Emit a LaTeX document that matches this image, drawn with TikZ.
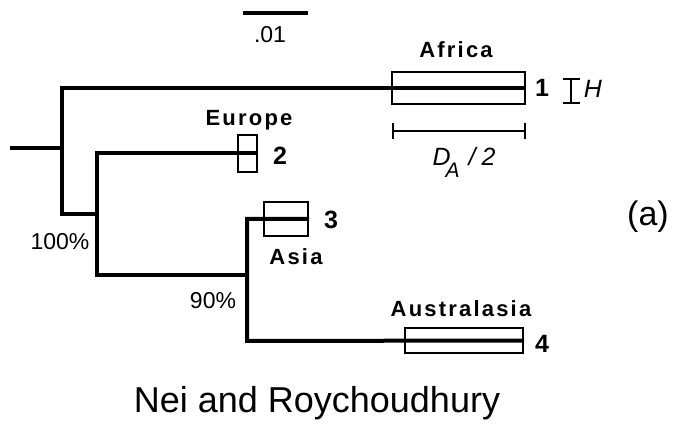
\documentclass[tikz,border=0pt]{standalone}
\usepackage{fontspec}
\setmainfont{Liberation Sans}
\newfontfamily\regionfont[LetterSpace=10]{Liberation Sans}
\usetikzlibrary{arrows.meta}

\begin{document}
\begin{tikzpicture}[x=1pt,y=-1pt,
  branch/.style={line width=4pt},
  rangebox/.style={draw, line width=2pt, inner sep=0pt, fill=none},
  regionlab/.style={font=\fontsize{22}{26}\selectfont\regionfont\bfseries, anchor=base, inner sep=0pt},
  tipnum/.style={font=\fontsize{25}{29}\selectfont\bfseries, anchor=base, inner sep=0pt},
  supportlab/.style={font=\fontsize{23}{27}\selectfont, anchor=base, inner sep=0pt},
  keylab/.style={font=\fontsize{25}{29}\selectfont\itshape, anchor=base, inner sep=0pt},
  spanbar/.style={line width=2pt, {Bar[width=#1]}-{Bar[width=#1]}}]

\useasboundingbox (0,0) rectangle (673,427);

% scale bar
\coordinate (sbL) at (243,13);
\coordinate (sbR) at (308,13);
\draw[line width=4.5pt] (sbL) -- (sbR);
\node[supportlab] (sblab) at (270,43) {.01};

% ranges at the tips
\node[rangebox, minimum width=133pt, minimum height=32pt] (africa) at (458.5,88) {};
\node[rangebox, minimum width=19pt, minimum height=37pt] (europe) at (247.5,153.5) {};
\node[rangebox, minimum width=44pt, minimum height=34pt] (asia) at (286,219) {};
\node[rangebox, minimum width=118pt, minimum height=25pt] (austral) at (464,340.5) {};

% internal nodes of the tree
\coordinate (stem) at (10,148);
\coordinate (root) at (62,148);
\coordinate (rootBot) at (62,214);
\coordinate (joinA) at (97,214);
\coordinate (nodeB) at (97,275);
\coordinate (joinB) at (247,275);
\coordinate (nodeC) at (247,341);

% branches
\draw[branch] (stem) -- (root);
\draw[branch] (africa.east) -| (rootBot) -- (joinA);
\draw[branch] (europe.east) -| (nodeB) -- (joinB);
\draw[branch] (asia.east) -| (nodeC) -- (austral.east);

% region names and tip numbers
\node[regionlab] (lAfrica) at (456,58) {Africa};
\node[regionlab] (lEurope) at (249,126) {Europe};
\node[regionlab] (lAsia) at (296,265) {Asia};
\node[regionlab] (lAustral) at (461,317) {Australasia};
\node[tipnum] (t1) at (542,97) {1};
\node[tipnum] (t2) at (280,165) {2};
\node[tipnum] (t3) at (331,229) {3};
\node[tipnum] (t4) at (542,353) {4};

% support values
\node[supportlab] (s100) at (60,250) {100\%};
\node[supportlab] (s90) at (213,309) {90\%};

% key: H and D_A/2
\coordinate (hT) at (571,78);
\coordinate (hB) at (571,104);
\draw[spanbar=17pt] (hT) -- (hB);
\node[keylab] (hlab) at (593,98) {H};
\coordinate (dL) at (392,131);
\coordinate (dR) at (526,131);
\draw[spanbar=16pt] (dL) -- (dR);
\node[keylab] (dlab) at (464,166)
  {D\kern-5pt\raisebox{-12pt}{\fontsize{21}{24}\selectfont A}\kern9pt/\kern6pt2};

% panel mark and caption
\node[font=\fontsize{34}{40}\selectfont, anchor=base, inner sep=0pt] (panel) at (648,226) {(a)};
\node[font=\fontsize{36}{42}\selectfont, anchor=base, inner sep=0pt] (caption) at (317,413) {Nei and Roychoudhury};
\end{tikzpicture}
\end{document}
